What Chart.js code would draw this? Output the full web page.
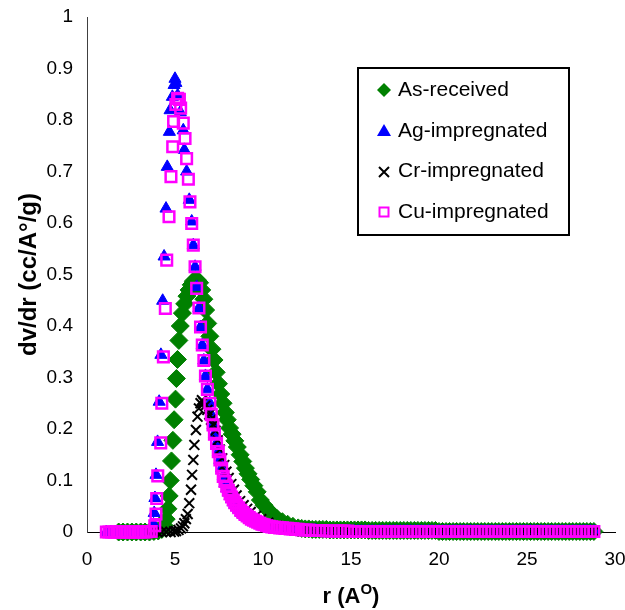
<!DOCTYPE html>
<html>
<head>
<meta charset="utf-8">
<title>dv/dr vs r</title>
<script src="https://cdn.jsdelivr.net/npm/chart.js@4.4.0/dist/chart.umd.min.js"></script>
<style>
  body { margin: 0; background: #fff; }
</style>
</head>
<body>
<canvas id="myChart" width="625" height="610"></canvas>
<script>
// series names, same order as the legend
let seriesNames = ['As-received', 'Ag-impregnated', 'Cr-impregnated', 'Cu-impregnated'];

// As-received: r (A) and dv/dr
let rAs = [1.8, 2.05, 2.3, 2.55, 2.8, 3.05, 3.3, 3.55, 3.8, 4.05,
  4.25, 4.4, 4.5, 4.6, 4.67, 4.73, 4.8, 4.88, 4.95, 5.03,
  5.08, 5.14, 5.22, 5.3, 5.42, 5.55, 5.68, 5.8, 5.92, 6.04,
  6.16, 6.28, 6.4, 6.52, 6.64, 6.74, 6.86, 6.98, 7.1, 7.22,
  7.34, 7.47, 7.6, 7.73, 7.86, 7.97, 8.1, 8.25, 8.4, 8.54,
  8.7, 8.85, 9.0, 9.15, 9.3, 9.48, 9.67, 9.85, 10.06, 10.3,
  10.55, 10.8, 11.1, 11.4, 11.7];
let vAs = [0, 0, 0, 0, 0, 0, 0, 0, 0.001, 0.002,
  0.005, 0.012, 0.025, 0.045, 0.07, 0.1, 0.138, 0.178, 0.218, 0.258,
  0.298, 0.335, 0.372, 0.40, 0.425, 0.443, 0.458, 0.47, 0.48, 0.487,
  0.49, 0.489, 0.484, 0.47, 0.452, 0.431, 0.405, 0.38, 0.355, 0.334,
  0.31, 0.288, 0.268, 0.25, 0.232, 0.218, 0.202, 0.19, 0.177, 0.165,
  0.15, 0.137, 0.124, 0.113, 0.102, 0.09, 0.078, 0.062, 0.052, 0.042,
  0.034, 0.026, 0.02, 0.015, 0.011];

// Ag-impregnated
let rAg = [1.1, 1.35, 1.6, 1.85, 2.1, 2.35, 2.6, 2.85, 3.1, 3.35,
  3.6, 3.78, 3.82, 3.86, 3.92, 4.01, 4.1, 4.2, 4.3, 4.38,
  4.49, 4.56, 4.68, 4.72, 4.85, 4.95, 5.0, 5.05, 5.15, 5.3,
  5.47, 5.53, 5.66, 5.81, 5.95, 6.04, 6.14, 6.23, 6.36, 6.45,
  6.55, 6.64, 6.73, 6.84, 6.98, 7.06, 7.16, 7.24, 7.36, 7.46,
  7.55, 7.65, 7.74, 7.84, 7.94, 8.03, 8.13, 8.22, 8.31, 8.4,
  8.5, 8.62, 8.74, 8.86, 8.98, 9.1, 9.22, 9.34, 9.46, 9.58,
  9.7, 9.82, 9.94, 10.06, 10.2, 10.35, 10.5, 10.65, 10.8, 10.95,
  11.1, 11.25, 11.4, 11.55, 11.7, 11.85];
let vAg = [0, 0, 0, 0, 0, 0, 0, 0, 0, 0,
  0.001, 0.015, 0.037, 0.066, 0.111, 0.175, 0.253, 0.344, 0.449, 0.535,
  0.628, 0.709, 0.777, 0.819, 0.845, 0.868, 0.88, 0.872, 0.848, 0.815,
  0.78, 0.742, 0.7, 0.645, 0.603, 0.557, 0.515, 0.476, 0.435, 0.398,
  0.363, 0.333, 0.303, 0.277, 0.25, 0.228, 0.208, 0.19, 0.172, 0.156,
  0.14, 0.124, 0.108, 0.095, 0.085, 0.077, 0.07, 0.064, 0.058, 0.053,
  0.048, 0.044, 0.039, 0.035, 0.031, 0.028, 0.025, 0.023, 0.021, 0.019,
  0.017, 0.015, 0.013, 0.012, 0.011, 0.01, 0.009, 0.008, 0.008, 0.007,
  0.007, 0.006, 0.006, 0.005, 0.005, 0.004];

// Cr-impregnated
let rCr = [3.5, 3.75, 4.0, 4.25, 4.5, 4.75, 4.95, 5.06, 5.2, 5.34,
  5.45, 5.53, 5.62, 5.72, 5.81, 5.91, 5.97, 6.04, 6.1, 6.19,
  6.28, 6.36, 6.45, 6.53, 6.62, 6.72, 6.84, 6.95, 7.05, 7.17,
  7.3, 7.43, 7.55, 7.68, 7.8, 7.92, 8.05, 8.2, 8.35, 8.5,
  8.7, 8.9, 9.1, 9.3, 9.6, 9.9, 10.3, 10.8, 11.4];
let vCr = [0, 0, 0, 0, 0, 0, 0.001, 0.002, 0.004, 0.007,
  0.011, 0.017, 0.025, 0.035, 0.056, 0.082, 0.111, 0.14, 0.169, 0.198,
  0.224, 0.24, 0.25, 0.256, 0.252, 0.245, 0.237, 0.228, 0.218, 0.208,
  0.197, 0.178, 0.16, 0.143, 0.13, 0.117, 0.105, 0.093, 0.082, 0.071,
  0.06, 0.052, 0.045, 0.039, 0.031, 0.025, 0.018, 0.012, 0.008];

// Cu-impregnated
let rCu = [1.1, 1.25, 1.4, 1.55, 1.7, 1.85, 2.0, 2.15, 2.3, 2.45,
  2.6, 2.75, 2.9, 3.05, 3.2, 3.35, 3.5, 3.65,
  3.85, 3.92, 3.96, 4.02, 4.19, 4.25, 4.34, 4.45, 4.53,
  4.66, 4.77, 4.87, 4.92, 5.05, 5.15, 5.25, 5.32, 5.47, 5.57,
  5.66, 5.76, 5.85, 5.95, 6.04, 6.14, 6.23, 6.36, 6.45, 6.55,
  6.64, 6.73, 6.84, 6.98, 7.06, 7.16, 7.24, 7.36, 7.46, 7.55,
  7.65, 7.74, 7.84, 7.94, 8.03, 8.13, 8.22, 8.31, 8.4,
  8.5, 8.62, 8.74, 8.86, 8.98, 9.1, 9.22, 9.34, 9.46, 9.58,
  9.7, 9.82, 9.94, 10.06, 10.2, 10.35, 10.5, 10.65, 10.8, 10.95,
  11.1, 11.25, 11.4, 11.55, 11.7, 11.85];
let vCu = [0, 0, 0, 0, 0, 0, 0, 0, 0, 0,
  0, 0, 0, 0, 0, 0, 0.001, 0.001,
  0.012, 0.035, 0.065, 0.109, 0.173, 0.25, 0.34, 0.434, 0.528,
  0.612, 0.69, 0.748, 0.797, 0.83, 0.842, 0.84, 0.823, 0.794, 0.764,
  0.725, 0.685, 0.641, 0.599, 0.557, 0.515, 0.473, 0.435, 0.398, 0.363,
  0.333, 0.303, 0.277, 0.25, 0.228, 0.208, 0.19, 0.172, 0.156, 0.14,
  0.124, 0.108, 0.098, 0.089, 0.081, 0.074, 0.068, 0.062, 0.057,
  0.052, 0.047, 0.042, 0.038, 0.034, 0.031, 0.028, 0.025, 0.023, 0.021,
  0.019, 0.017, 0.015, 0.014, 0.012, 0.011, 0.010, 0.009, 0.009, 0.008,
  0.008, 0.007, 0.007, 0.006, 0.006, 0.005];

// long flat tail, same r grid for every series
let rTailA = [12.0, 12.2, 12.4, 12.6, 12.8, 13.0, 13.2, 13.4, 13.6, 13.8,
  14.0, 14.2, 14.4, 14.6, 14.8, 15.0, 15.2, 15.4, 15.6, 15.8];
let rTailB = [16.0, 16.2, 16.4, 16.6, 16.8, 17.0, 17.2, 17.4, 17.6, 17.8,
  18.0, 18.2, 18.4, 18.6, 18.8, 19.0, 19.2, 19.4, 19.6, 19.8,
  20.0, 20.2, 20.4, 20.6, 20.8, 21.0, 21.2, 21.4, 21.6, 21.8,
  22.0, 22.2, 22.4, 22.6, 22.8, 23.0, 23.2, 23.4, 23.6, 23.8,
  24.0, 24.2, 24.4, 24.6, 24.8, 25.0, 25.2, 25.4, 25.6, 25.8,
  26.0, 26.2, 26.4, 26.6, 26.8, 27.0, 27.2, 27.4, 27.6, 27.8,
  28.0, 28.2, 28.4, 28.6, 28.8];

let vAsTailA = [0.008, 0.007, 0.006, 0.006, 0.005, 0.005, 0.005, 0.005, 0.005, 0.004,
  0.004, 0.004, 0.004, 0.004, 0.004, 0.004, 0.004, 0.004, 0.004, 0.004];
let vAgTailA = [0.004, 0.004, 0.003, 0.003, 0.003, 0.003, 0.002, 0.002, 0.002, 0.002,
  0.002, 0.002, 0.002, 0.001, 0.001, 0.001, 0.001, 0.001, 0.001, 0.001];
let vCrTailA = [0.005, 0.005, 0.004, 0.004, 0.004, 0.003, 0.003, 0.003, 0.003, 0.002,
  0.002, 0.002, 0.002, 0.002, 0.001, 0.001, 0.001, 0.001, 0.001, 0.001];
let vCuTailA = [0.005, 0.004, 0.004, 0.004, 0.003, 0.003, 0.003, 0.003, 0.002, 0.002,
  0.002, 0.002, 0.002, 0.002, 0.002, 0.001, 0.001, 0.001, 0.001, 0.001];

let vAsTailB = [0.003, 0.003, 0.003, 0.003, 0.003, 0.003, 0.003, 0.003, 0.003, 0.003,
  0.003, 0.003, 0.003, 0.003, 0.003, 0.003, 0.003, 0.003, 0.003, 0.003,
  0.001, 0.001, 0.001, 0.001, 0.001, 0.001, 0.001, 0.001, 0.001, 0.001,
  0.001, 0.001, 0.001, 0.001, 0.001, 0.001, 0.001, 0.001, 0.001, 0.001,
  0.001, 0.001, 0.001, 0.001, 0.001, 0.001, 0.001, 0.001, 0.001, 0.001,
  0.001, 0.001, 0.001, 0.001, 0.001, 0.001, 0.001, 0.001, 0.001, 0.001,
  0.001, 0.001, 0.001, 0.001, 0.001];
// Ag, Cr and Cu sit on top of each other out here
let vImpTailB = [0.001, 0.001, 0.001, 0.001, 0.001, 0.001, 0.001, 0.001, 0.001, 0.001,
  0.001, 0.001, 0.001, 0.001, 0.001, 0.001, 0.001, 0.001, 0.001, 0.001,
  0.001, 0.001, 0.001, 0.001, 0.001, 0.001, 0.001, 0.001, 0.001, 0.001,
  0.001, 0.001, 0.001, 0.001, 0.001, 0.001, 0.001, 0.001, 0.001, 0.001,
  0.001, 0.001, 0.001, 0.001, 0.001, 0.001, 0.001, 0.001, 0.001, 0.001,
  0.001, 0.001, 0.001, 0.001, 0.001, 0.001, 0.001, 0.001, 0.001, 0.001,
  0.001, 0.001, 0.001, 0.001, 0.001];

let fontFam = "'Liberation Sans', Arial, sans-serif";
Chart.defaults.font.family = fontFam;
Chart.defaults.color = '#000';

function toPoints(r, v) {
  return r.map(function(x, i) { return { x: x, y: v[i] }; });
}

// no extra label padding, chart area = layout padding
function noPad(s) {
  s.paddingLeft = 0; s.paddingRight = 0; s.paddingTop = 0; s.paddingBottom = 0;
}

// legend markers drawn by hand (box legend sits inside the plot)
function drawMarker(ctx, kind, x, y) {
  ctx.beginPath();
  if (kind === 'diamond') {
    ctx.fillStyle = '#008000';
    ctx.moveTo(x - 7, y); ctx.lineTo(x, y - 7); ctx.lineTo(x + 7, y); ctx.lineTo(x, y + 7);
    ctx.closePath(); ctx.fill();
  } else if (kind === 'triangle') {
    ctx.fillStyle = '#0000FF';
    ctx.moveTo(x, y - 7); ctx.lineTo(x + 7, y + 5); ctx.lineTo(x - 7, y + 5);
    ctx.closePath(); ctx.fill();
  } else if (kind === 'cross') {
    ctx.strokeStyle = '#000'; ctx.lineWidth = 2;
    ctx.moveTo(x - 5, y - 5); ctx.lineTo(x + 5, y + 5);
    ctx.moveTo(x + 5, y - 5); ctx.lineTo(x - 5, y + 5);
    ctx.stroke();
  } else {
    ctx.strokeStyle = '#FF00FF'; ctx.lineWidth = 2;
    ctx.rect(x - 4.5, y - 4.5, 9, 9);
    ctx.stroke();
  }
}

let boxLegend = {
  id: 'boxLegend',
  afterDraw: function(chart) {
    let ctx = chart.ctx;
    let kinds = ['diamond', 'triangle', 'cross', 'square'];
    let markY = [90, 131, 172, 212];
    let textY = [96, 137, 177, 218];
    ctx.save();
    ctx.fillStyle = '#fff';
    ctx.fillRect(358, 68, 211, 167);
    ctx.strokeStyle = '#000';
    ctx.lineWidth = 2;
    ctx.strokeRect(358, 68, 211, 167);
    for (let i = 0; i < 4; i++) {
      drawMarker(ctx, kinds[i], 384, markY[i]);
      ctx.fillStyle = '#000';
      ctx.font = '21px ' + fontFam;
      ctx.textAlign = 'left';
      ctx.textBaseline = 'alphabetic';
      ctx.fillText(seriesNames[i], 398, textY[i]);
    }
    ctx.restore();
  }
};

// x title has a superscript O
let xTitle = {
  id: 'xTitle',
  afterDraw: function(chart) {
    let ctx = chart.ctx;
    let area = chart.chartArea;
    let cx = (area.left + area.right) / 2;
    let base = 603;
    ctx.save();
    ctx.fillStyle = '#000';
    ctx.textAlign = 'left';
    ctx.textBaseline = 'alphabetic';
    ctx.font = 'bold 22px ' + fontFam;
    let w1 = ctx.measureText('r (A').width;
    let w3 = ctx.measureText(')').width;
    ctx.font = 'bold 15px ' + fontFam;
    let w2 = ctx.measureText('O').width;
    let x0 = cx - (w1 + w2 + w3) / 2;
    ctx.font = 'bold 22px ' + fontFam;
    ctx.fillText('r (A', x0, base);
    ctx.fillText(')', x0 + w1 + w2, base);
    ctx.font = 'bold 15px ' + fontFam;
    ctx.fillText('O', x0 + w1, base - 9);
    ctx.restore();
  }
};

var myChart = document.getElementById('myChart').getContext('2d');

var psdChart = new Chart(myChart, {
  type: 'scatter',
  data: {
    datasets: [{
      label: seriesNames[0],
      data: toPoints(rAs.concat(rTailA, rTailB), vAs.concat(vAsTailA, vAsTailB)),
      pointStyle: 'rectRot',
      pointRadius: 9,
      backgroundColor: '#008000',
      borderColor: '#008000',
      borderWidth: 1,
      order: 4,
      clip: false
    }, {
      label: seriesNames[1],
      data: toPoints(rAg.concat(rTailA, rTailB), vAg.concat(vAgTailA, vImpTailB)),
      pointStyle: 'triangle',
      pointRadius: 7,
      backgroundColor: '#0000FF',
      borderColor: '#0000FF',
      borderWidth: 1,
      order: 3,
      clip: false
    }, {
      label: seriesNames[2],
      data: toPoints(rCr.concat(rTailA, rTailB), vCr.concat(vCrTailA, vImpTailB)),
      pointStyle: 'crossRot',
      pointRadius: 7,
      borderColor: '#000',
      borderWidth: 2,
      order: 2,
      clip: false
    }, {
      label: seriesNames[3],
      data: toPoints(rCu.concat(rTailA, rTailB), vCu.concat(vCuTailA, vImpTailB)),
      pointStyle: 'rect',
      pointRadius: 7.5,
      backgroundColor: 'rgba(0,0,0,0)',
      borderColor: '#FF00FF',
      borderWidth: 2.5,
      order: 1,
      clip: false
    }]
  },
  options: {
    responsive: false,
    animation: false,
    layout: { padding: { left: 0, right: 10, top: 17, bottom: 0 } },
    plugins: {
      legend: { display: false },
      tooltip: { enabled: false }
    },
    scales: {
      x: {
        type: 'linear',
        min: 0,
        max: 30,
        ticks: { stepSize: 5, color: '#000', font: { size: 19 }, padding: 16, maxRotation: 0 },
        grid: { display: false, drawTicks: false },
        border: { color: '#000', width: 1 },
        afterFit: function(s) { s.height = 78; noPad(s); }
      },
      y: {
        min: 0,
        max: 1,
        ticks: {
          stepSize: 0.1,
          color: '#000',
          font: { size: 19 },
          padding: 14,
          callback: function(v) { return String(Math.round(v * 10) / 10); }
        },
        grid: { display: false, drawTicks: false },
        border: { color: '#404040', width: 1 },
        title: {
          display: true,
          text: 'dv/dr (cc/A°/g)',
          color: '#000',
          font: { size: 24, weight: 'bold' },
          padding: { top: 15, bottom: 0 }
        },
        afterFit: function(s) { s.width = 87; noPad(s); }
      }
    }
  },
  plugins: [xTitle, boxLegend]
});
</script>
</body>
</html>
